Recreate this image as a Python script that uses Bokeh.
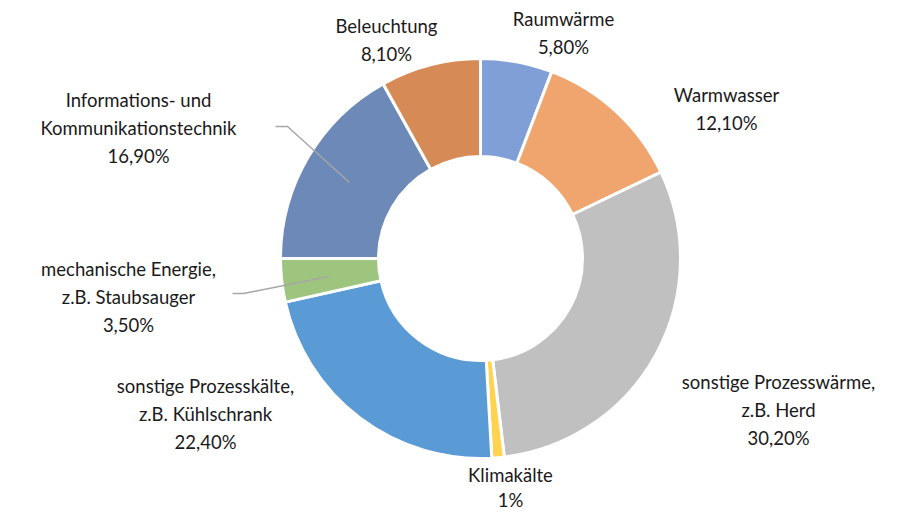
import math
from bokeh.plotting import figure
from bokeh.models import Range1d, ColumnDataSource
from bokeh.core.properties import value
from bokeh.embed import file_html
from bokeh.resources import INLINE

# ---- data ----
categories = ["Raumwärme", "Warmwasser", "sonstige Prozesswärme, z.B. Herd", "Klimakälte",
              "sonstige Prozesskälte, z.B. Kühlschrank", "mechanische Energie, z.B. Staubsauger",
              "Informations- und Kommunikationstechnik", "Beleuchtung"]
shares = [5.8, 12.1, 30.2, 1.0, 22.4, 3.5, 16.9, 8.1]
share_labels = ["5,80%", "12,10%", "30,20%", "1%", "22,40%", "3,50%", "16,90%", "8,10%"]
label_lines = [["Raumwärme"], ["Warmwasser"], ["sonstige Prozesswärme,", "z.B. Herd"], ["Klimakälte"],
               ["sonstige Prozesskälte,", "z.B. Kühlschrank"], ["mechanische Energie,", "z.B. Staubsauger"],
               ["Informations- und", "Kommunikationstechnik"], ["Beleuchtung"]]
colors = ["#7f9fd6", "#f0a56e", "#c0c0c0", "#ffd34f", "#5b9bd5", "#9dc57e", "#6d89b8", "#d68b57"]

# ---- layout (pixel geometry) ----
W, H = 889, 509
CX, CY = 480, 258
R_OUT, R_IN = 200, 102
# label block centers (x, y of first line, line spacing), in page pixels
label_pos = [(563, 18, 28), (726, 94, 28), (778, 381, 28), (510, 474, 25), (205, 385, 28),
             (128, 268, 28), (138, 99, 28), (386, 25, 28)]
leaders = {5: [(232, 293), (243, 293), (328, 276)], 6: [(275, 126), (287, 126), (349, 182)]}

def px(x):
    return x - CX

def py(y):
    return CY - y

p = figure(width=W, height=H, output_backend="svg", toolbar_location=None,
           x_range=Range1d(-CX, W - CX), y_range=Range1d(CY - H, CY),
           min_border=0, outline_line_color=None)
p.axis.visible = False
p.grid.visible = False
p.background_fill_color = "white"
p.border_fill_color = "white"

total = sum(shares)
starts, ends = [], []
cum = 0.0
for s in shares:
    starts.append(math.pi / 2 - 2 * math.pi * cum / total)
    cum += s
    ends.append(math.pi / 2 - 2 * math.pi * cum / total)

src = ColumnDataSource(dict(x=[0] * len(shares), y=[0] * len(shares), start=starts, end=ends, color=colors))
p.annular_wedge(x="x", y="y", inner_radius=R_IN, outer_radius=R_OUT, start_angle="start", end_angle="end",
                direction="clock", fill_color="color", line_color="white", line_width=3, source=src)

for i, pts in leaders.items():
    p.line([px(a) for a, b in pts], [py(b) for a, b in pts], line_color="#a6a6a6", line_width=1.5)

tx, ty, tt = [], [], []
for i, lines in enumerate(label_lines):
    x0, y0, lh = label_pos[i]
    for k, t in enumerate(lines + [share_labels[i]]):
        tx.append(px(x0))
        ty.append(py(y0 + k * lh))
        tt.append(t)
p.text(x=tx, y=ty, text=tt, text_font=value("Lato"), text_font_size="18.5px", text_color="#1a1a1a",
       text_align="center", text_baseline="middle")

open("out.html", "w").write(file_html(p, INLINE))
